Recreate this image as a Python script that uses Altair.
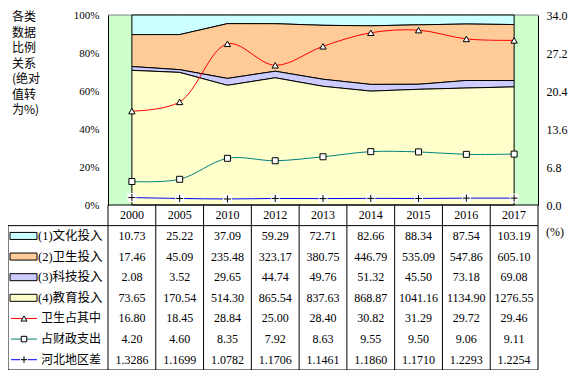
import altair as alt
import pandas as pd

# ---------------- data ----------------
years = ["2000", "2005", "2010", "2012", "2013", "2014", "2015", "2016", "2017"]

area_names = ["(1)文化投入", "(2)卫生投入", "(3)科技投入", "(4)教育投入"]
culture = [10.73, 25.22, 37.09, 59.29, 72.71, 82.66, 88.34, 87.54, 103.19]
health = [17.46, 45.09, 235.48, 323.17, 380.75, 446.79, 535.09, 547.86, 605.10]
science = [2.08, 3.52, 29.65, 44.74, 49.76, 51.32, 45.50, 73.18, 69.08]
education = [73.65, 170.54, 514.30, 865.54, 837.63, 868.87, 1041.16, 1134.90, 1276.55]

line_names = ["卫生占其中", "占财政支出", "河北地区差"]
health_share = [16.80, 18.45, 28.84, 25.00, 28.40, 30.82, 31.29, 29.72, 29.46]
fiscal_share = [4.20, 4.60, 8.35, 7.92, 8.63, 9.55, 9.50, 9.06, 9.11]
hebei_gap = [1.3286, 1.1699, 1.0782, 1.1706, 1.1461, 1.1860, 1.1710, 1.2293, 1.2254]

side_label = ["各类", "数据", "比例", "关系", "(绝对", "值转", "为%)"]

area_colors = ["#CCFFFF", "#FFCC99", "#CCCCFF", "#FFFFCC"]
line_colors = ["#FF0000", "#008080", "#0000FF"]
PLUS = "M-1,0L1,0M0,-1L0,1"

W, H, PH = 430, 355, 190
NUMFONT = "Liberation Serif"
CJKFONT = "Liberation Serif, Noto Sans CJK SC"

area_series = [culture, health, science, education]
line_series = [health_share, fiscal_share, hebei_gap]
line_dec = [2, 2, 4]

# ---------------- tables ----------------
area_rows = []
for i, (n, vals) in enumerate(zip(area_names, area_series)):
    for y, v in zip(years, vals):
        area_rows.append({"year": y, "series": n, "value": v, "k": 3 - i})
area_df = pd.DataFrame(area_rows)

line_rows = []
for n, vals in zip(line_names, line_series):
    for y, v in zip(years, vals):
        line_rows.append({"year": y, "series": n, "value": v})
line_df = pd.DataFrame(line_rows)

# table cells: row 0 is the header, rows 1..7 are the series
cell_rows = [{"year": y, "rc": 0.5, "label": y} for y in years]
for i, vals in enumerate(area_series):
    for y, v in zip(years, vals):
        cell_rows.append({"year": y, "rc": i + 1.5, "label": f"{v:.2f}"})
for j, (vals, d) in enumerate(zip(line_series, line_dec)):
    for y, v in zip(years, vals):
        cell_rows.append({"year": y, "rc": j + 5.5, "label": f"{v:.{d}f}"})
cell_df = pd.DataFrame(cell_rows)

akey_df = pd.DataFrame({"series": area_names,
                        "rc": [i + 1.5 for i in range(4)],
                        "t0": [i + 1.33 for i in range(4)],
                        "t1": [i + 1.67 for i in range(4)]})
lkey_df = pd.DataFrame({"series": line_names, "rc": [j + 5.5 for j in range(3)]})

# ---------------- scales ----------------
xscale = alt.Scale(type="band", domain=years, paddingInner=0, paddingOuter=0)
pscale = alt.Scale(domain=[0, 1], range=[PH, 0], nice=False, zero=True)
rscale = alt.Scale(domain=[0, 34], range=[PH, 0], nice=False, zero=True)
tscale = alt.Scale(domain=[0, 8], range=[PH, H], nice=False, zero=False)

X = alt.X("year:N", scale=xscale, axis=None, bandPosition=0.5)
one = pd.DataFrame({"a": [0]})

# ---------------- percentage (left axis) layer ----------------
bg = alt.Chart(one).mark_rect(color="#CCFFCC").encode(
    x=alt.value(0), x2=alt.value("width"),
    y=alt.Y(datum=1, type="quantitative", scale=pscale), y2=alt.Y2(datum=0))
top_rule = alt.Chart(one).mark_rule(color="#808080").encode(
    x=alt.value(0), x2=alt.value("width"),
    y=alt.Y(datum=1, type="quantitative", scale=pscale))
areas = alt.Chart(area_df).mark_area(stroke="black", strokeWidth=1, opacity=1, fillOpacity=1).encode(
    x=X,
    y=alt.Y("value:Q", stack="normalize", scale=pscale,
            axis=alt.Axis(orient="left", values=[0, 0.2, 0.4, 0.6, 0.8, 1], format=".0%",
                          title=None, ticks=False, grid=False, labelPadding=9,
                          domainColor="black", labelFont=NUMFONT, labelFontSize=11,
                          labelColor="black", zindex=1)),
    fill=alt.Fill("series:N", scale=alt.Scale(domain=area_names, range=area_colors), legend=None),
    order=alt.Order("k:Q", sort="ascending"),
)
pct_layer = alt.layer(bg, top_rule, areas)

# ---------------- right axis lines ----------------
lines = alt.Chart(line_df).mark_line(interpolate="catmull-rom", strokeWidth=1).encode(
    x=X,
    y=alt.Y("value:Q", scale=rscale,
            axis=alt.Axis(orient="right", values=[0, 6.8, 13.6, 20.4, 27.2, 34], format=".1f",
                          title=None, ticks=False, grid=False, labelPadding=8,
                          domainColor="black", labelFont=NUMFONT, labelFontSize=12,
                          labelColor="black", zindex=1)),
    color=alt.Color("series:N", scale=alt.Scale(domain=line_names, range=line_colors), legend=None),
)
tri = alt.Chart(line_df[line_df.series == line_names[0]]).mark_point(
    shape="triangle-up", size=40, filled=True, fill="white", stroke="black", strokeWidth=1, opacity=1
).encode(x=X, y=alt.Y("value:Q", scale=rscale))
sq = alt.Chart(line_df[line_df.series == line_names[1]]).mark_point(
    shape="square", size=36, filled=True, fill="white", stroke="black", strokeWidth=1, opacity=1
).encode(x=X, y=alt.Y("value:Q", scale=rscale))
plus_bg = alt.Chart(line_df[line_df.series == line_names[2]]).mark_point(
    shape="square", size=81, filled=True, fill="white", strokeWidth=0, opacity=1
).encode(x=X, y=alt.Y("value:Q", scale=rscale))
plus = alt.Chart(line_df[line_df.series == line_names[2]]).mark_point(
    shape=PLUS, size=49, filled=False, stroke="black", strokeWidth=1, opacity=1
).encode(x=X, y=alt.Y("value:Q", scale=rscale))
right_layer = alt.layer(lines, plus_bg, plus, sq, tri)

# ---------------- data table ----------------
TY = lambda f: alt.Y(f, scale=tscale, axis=None)
rule_df = pd.DataFrame({"year": years, "y0": [0] * len(years), "y1": [8] * len(years)})
vrules = alt.Chart(rule_df).mark_rule(color="black").encode(
    x=alt.X("year:N", scale=xscale, axis=None, bandPosition=0), y=TY("y0:Q"), y2="y1:Q")
vright = alt.Chart(rule_df.tail(1)).mark_rule(color="black").encode(
    x=alt.X("year:N", scale=xscale, axis=None, bandPosition=1), y=TY("y0:Q"), y2="y1:Q")
hrules = alt.Chart(pd.DataFrame({"yy": [1, 8]})).mark_rule(color="black").encode(
    x=alt.value(-100), x2=alt.value("width"), y=TY("yy:Q"))
xaxis_line = alt.Chart(pd.DataFrame({"yy": [0]})).mark_rule(color="black").encode(
    x=alt.value(0), x2=alt.value("width"), y=TY("yy:Q"))
lborder = alt.Chart(pd.DataFrame({"y0": [1], "y1": [8]})).mark_rule(color="black").encode(
    x=alt.value(-100), y=TY("y0:Q"), y2="y1:Q")
cells = alt.Chart(cell_df).mark_text(font=NUMFONT, fontSize=12, color="black",
                                     align="center", baseline="middle").encode(
    x=X, y=TY("rc:Q"), text="label:N")

akeys = alt.Chart(akey_df).mark_rect(stroke="black", strokeWidth=1).encode(
    x=alt.value(-98), x2=alt.value(-71), y=TY("t0:Q"), y2="t1:Q",
    fill=alt.Fill("series:N", scale=alt.Scale(domain=area_names, range=area_colors), legend=None))
anames = alt.Chart(akey_df).mark_text(font=CJKFONT, fontSize=12.5, color="black",
                                      align="left", baseline="middle").encode(
    x=alt.value(-70), y=TY("rc:Q"), text="series:N")
lkeys = alt.Chart(lkey_df).mark_rule(strokeWidth=1).encode(
    x=alt.value(-97), x2=alt.value(-71), y=TY("rc:Q"),
    color=alt.Color("series:N", scale=alt.Scale(domain=line_names, range=line_colors), legend=None))
k_tri = alt.Chart(lkey_df.iloc[[0]]).mark_point(
    shape="triangle-up", size=36, filled=True, fill="white", stroke="black", strokeWidth=1, opacity=1
).encode(x=alt.value(-84), y=TY("rc:Q"))
k_sq = alt.Chart(lkey_df.iloc[[1]]).mark_point(
    shape="square", size=30, filled=True, fill="white", stroke="black", strokeWidth=1, opacity=1
).encode(x=alt.value(-84), y=TY("rc:Q"))
k_plus_bg = alt.Chart(lkey_df.iloc[[2]]).mark_point(
    shape="square", size=64, filled=True, fill="white", strokeWidth=0, opacity=1
).encode(x=alt.value(-84), y=TY("rc:Q"))
k_plus = alt.Chart(lkey_df.iloc[[2]]).mark_point(
    shape=PLUS, size=42, filled=False, stroke="black", strokeWidth=1, opacity=1
).encode(x=alt.value(-84), y=TY("rc:Q"))
lnames = alt.Chart(lkey_df).mark_text(font=CJKFONT, fontSize=12, color="black",
                                      align="left", baseline="middle").encode(
    x=alt.value(-67), y=TY("rc:Q"), text="series:N")
table_layer = alt.layer(vrules, vright, hrules, xaxis_line, lborder, cells,
                        akeys, anames, lkeys, k_plus_bg, k_plus, k_sq, k_tri, lnames)

# ---------------- annotations ----------------
unit = alt.Chart(one).mark_text(text="(%)", font=NUMFONT, fontSize=12, color="black",
                                align="left", baseline="middle").encode(
    x=alt.value(438), y=alt.value(217))
side = alt.Chart(one).mark_text(text=side_label, font="Noto Sans CJK SC", fontSize=12,
                                color="black", align="left", baseline="middle",
                                lineHeight=15.5).encode(
    x=alt.value(-96), y=alt.value(2))

chart = alt.layer(pct_layer, right_layer, table_layer, unit, side).resolve_scale(
    y="independent"
).properties(
    width=W, height=H,
    autosize=alt.AutoSizeParams(type="none"),
    padding={"left": 100, "top": 7, "right": 30, "bottom": 0},
).configure_view(stroke=None)

chart.save("out.html", embed_options={"renderer": "svg", "actions": False})
